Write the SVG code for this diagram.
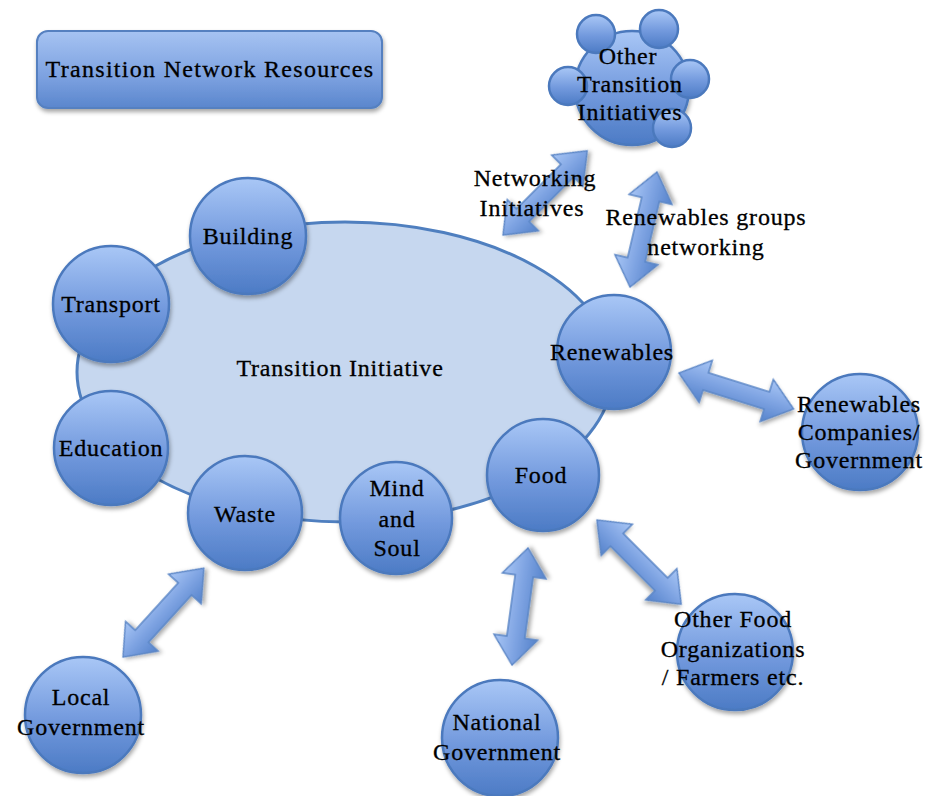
<svg xmlns="http://www.w3.org/2000/svg" width="931" height="796" viewBox="0 0 931 796">
  <defs>
    <linearGradient id="ballFill" x1="0" y1="0" x2="0" y2="1">
      <stop offset="0" stop-color="#a9c7f6"/>
      <stop offset="0.55" stop-color="#7299dd"/>
      <stop offset="1" stop-color="#4c7bc5"/>
    </linearGradient>
    <linearGradient id="boxFill" x1="0" y1="0" x2="0" y2="1">
      <stop offset="0" stop-color="#a6c3f2"/>
      <stop offset="0.6" stop-color="#7ca1e0"/>
      <stop offset="1" stop-color="#5a86cd"/>
    </linearGradient>
    <linearGradient id="arrowFill" x1="0" y1="0" x2="0" y2="1">
      <stop offset="0" stop-color="#a8c6f5"/>
      <stop offset="0.5" stop-color="#7ea3e2"/>
      <stop offset="1" stop-color="#5583cb"/>
    </linearGradient>
    <filter id="shadow" x="-20%" y="-20%" width="140%" height="150%">
      <feDropShadow dx="1" dy="3" stdDeviation="2.2" flood-color="#000" flood-opacity="0.35"/>
    </filter>
  </defs>
  <style>
    .ball { fill: url(#ballFill); stroke: #4b79bd; stroke-width: 2.5; filter: url(#shadow); }
    .bub { fill: url(#ballFill); stroke: #4b79bd; stroke-width: 2.5; }
    .arrow { fill: url(#arrowFill); stroke: #5b86c6; stroke-width: 1.5; stroke-linejoin: miter; filter: url(#shadow); }
    text { font-family: "Liberation Serif", "DejaVu Serif", serif; font-size: 24px; fill: #000; stroke: #000; stroke-width: 0.3; text-anchor: middle; letter-spacing: 0.8px; }
    .title { letter-spacing: 1.3px; }
  </style>

  <rect width="931" height="796" fill="#ffffff"/>

  <!-- title box -->
  <g id="title">
    <rect x="37" y="31" width="345" height="77" rx="11" ry="11" fill="url(#boxFill)" stroke="#5580c0" stroke-width="2" filter="url(#shadow)"/>
    <text class="title" x="210" y="77">Transition Network Resources</text>
  </g>

  <!-- central initiative -->
  <g id="initiative">
    <ellipse cx="345" cy="372" rx="268" ry="150" fill="#c6d7ef" stroke="#4f7fbf" stroke-width="3"/>
    <text x="340" y="376">Transition Initiative</text>
  </g>

  <!-- connectors -->
  <g id="connectors">
    <polygon class="arrow" transform="translate(503,235) rotate(-45)" points="0,0 28,-22 28,-9 91,-9 91,-22 119,0 91,22 91,9 28,9 28,22"/>
    <polygon class="arrow" transform="translate(630,287) rotate(-76.8)" points="0,0 28,-22 28,-9 90,-9 90,-22 118,0 90,22 90,9 28,9 28,22"/>
    <polygon class="arrow" transform="translate(679,373) rotate(17.4)" points="0,0 28,-22 28,-9 92,-9 92,-22 120,0 92,22 92,9 28,9 28,22"/>
    <polygon class="arrow" transform="translate(123,657) rotate(-47.7)" points="0,0 28,-22 28,-9 92,-9 92,-22 120,0 92,22 92,9 28,9 28,22"/>
    <polygon class="arrow" transform="translate(512,665) rotate(-82.2)" points="0,0 28,-22 28,-9 90,-9 90,-22 118,0 90,22 90,9 28,9 28,22"/>
    <polygon class="arrow" transform="translate(597,520) rotate(45)" points="0,0 28,-22 28,-9 91,-9 91,-22 119,0 91,22 91,9 28,9 28,22"/>
  </g>

  <!-- connector labels -->
  <g id="labels">
    <text x="535" y="186">Networking</text>
    <text x="532" y="216">Initiatives</text>
    <text x="706" y="225">Renewables groups</text>
    <text x="706" y="255">networking</text>
  </g>

  <!-- themes around the initiative -->
  <g id="building">
    <circle class="ball" cx="248" cy="236" r="58"/>
    <text x="248" y="244">Building</text>
  </g>
  <g id="transport">
    <circle class="ball" cx="111" cy="304" r="58"/>
    <text x="111" y="312">Transport</text>
  </g>
  <g id="education">
    <circle class="ball" cx="111" cy="448" r="57"/>
    <text x="111" y="456">Education</text>
  </g>
  <g id="waste">
    <circle class="ball" cx="245" cy="513" r="57"/>
    <text x="245" y="522">Waste</text>
  </g>
  <g id="mind-soul">
    <circle class="ball" cx="396" cy="518" r="56"/>
    <text x="397" y="496">Mind</text>
    <text x="397" y="527">and</text>
    <text x="397" y="556">Soul</text>
  </g>
  <g id="food">
    <circle class="ball" cx="543" cy="475" r="56"/>
    <text x="541" y="483">Food</text>
  </g>
  <g id="renewables">
    <circle class="ball" cx="614" cy="352" r="57"/>
    <text x="612" y="360">Renewables</text>
  </g>

  <!-- outside partners -->
  <g id="other-initiatives">
    <circle class="ball" cx="632" cy="88" r="57"/>
    <circle class="bub" cx="596" cy="34" r="19"/>
    <circle class="bub" cx="659" cy="29" r="19"/>
    <circle class="bub" cx="568" cy="86" r="19"/>
    <circle class="bub" cx="690" cy="79" r="19"/>
    <circle class="bub" cx="672" cy="128" r="19"/>
    <text x="628" y="64">Other</text>
    <text x="630" y="92">Transition</text>
    <text x="630" y="120">Initiatives</text>
  </g>
  <g id="renewables-companies">
    <circle class="ball" cx="860" cy="432" r="58"/>
    <text x="859" y="412">Renewables</text>
    <text x="859" y="440">Companies/</text>
    <text x="859" y="468">Government</text>
  </g>
  <g id="food-organizations">
    <circle class="ball" cx="735" cy="652" r="58"/>
    <text x="733" y="627">Other Food</text>
    <text x="733" y="657">Organizations</text>
    <text x="733" y="685">/ Farmers etc.</text>
  </g>
  <g id="national-government">
    <circle class="ball" cx="500" cy="738" r="58"/>
    <text x="497" y="730">National</text>
    <text x="497" y="760">Government</text>
  </g>
  <g id="local-government">
    <circle class="ball" cx="83" cy="715" r="58"/>
    <text x="81" y="705">Local</text>
    <text x="81" y="735">Government</text>
  </g>
</svg>
